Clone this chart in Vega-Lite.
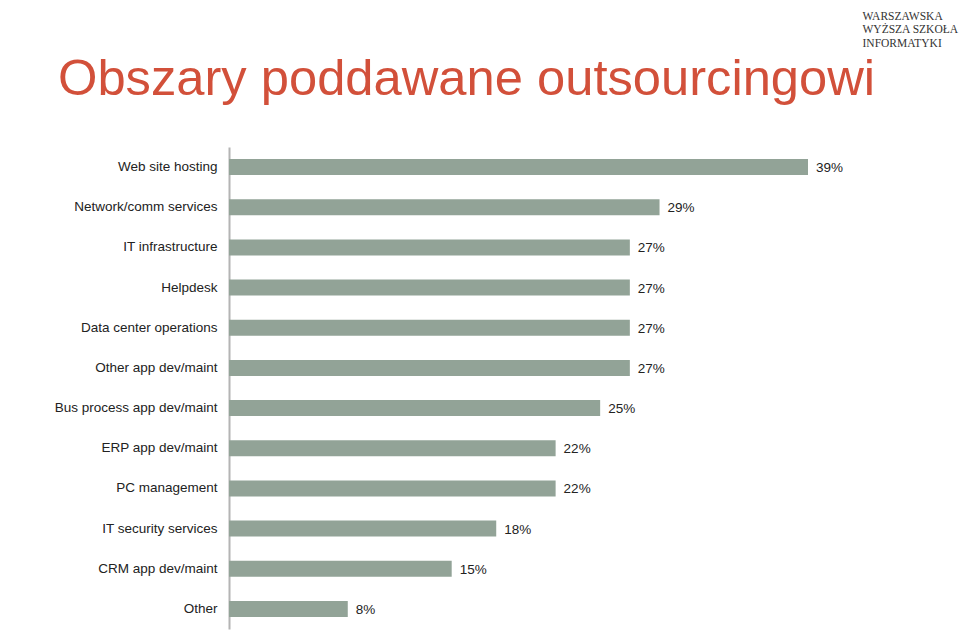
{
  "$schema": "https://vega.github.io/schema/vega-lite/v6.json",
  "autosize": {"type": "none"},
  "width": 579,
  "height": 482,
  "padding": {"left": 229, "top": 147, "right": 152, "bottom": 1},
  "background": "white",
  "title": {
    "text": "Obszary poddawane outsourcingowi",
    "anchor": "start",
    "frame": "group",
    "orient": "top",
    "baseline": "alphabetic",
    "offset": 0,
    "dy": 136,
    "dx": -171,
    "font": "Liberation Sans",
    "fontSize": 50.7,
    "fontWeight": "normal",
    "color": "#d2503a"
  },
  "data": {
    "values": [
      {"area": "Web site hosting", "pct": 0.39, "ord": 1},
      {"area": "Network/comm services", "pct": 0.29, "ord": 2},
      {"area": "IT infrastructure", "pct": 0.27, "ord": 3},
      {"area": "Helpdesk", "pct": 0.27, "ord": 4},
      {"area": "Data center operations", "pct": 0.27, "ord": 5},
      {"area": "Other app dev/maint", "pct": 0.27, "ord": 6},
      {"area": "Bus process app dev/maint", "pct": 0.25, "ord": 7},
      {"area": "ERP app dev/maint", "pct": 0.22, "ord": 8},
      {"area": "PC management", "pct": 0.22, "ord": 9},
      {"area": "IT security services", "pct": 0.18, "ord": 10},
      {"area": "CRM app dev/maint", "pct": 0.15, "ord": 11},
      {"area": "Other", "pct": 0.08, "ord": 12}
    ]
  },
  "encoding": {
    "y": {
      "field": "area",
      "type": "nominal",
      "sort": {"field": "ord", "order": "ascending"},
      "scale": {"paddingInner": 0.6, "paddingOuter": 0.3},
      "axis": {
        "title": null,
        "ticks": false,
        "labelPadding": 12,
        "labelFont": "Liberation Sans",
        "labelFontSize": 13.5,
        "labelColor": "#222222",
        "domainColor": "#b4b4b4",
        "domainWidth": 2,
        "grid": false
      }
    },
    "x": {
      "field": "pct",
      "type": "quantitative",
      "scale": {"domain": [0, 0.39], "nice": false, "zero": true},
      "axis": {
        "orient": "top",
        "labels": false,
        "ticks": false,
        "domain": false,
        "grid": false,
        "title": ["WARSZAWSKA", "WYŻSZA SZKOŁA", "INFORMATYKI"],
        "titleFont": "Liberation Serif",
        "titleFontSize": 11.5,
        "titleFontWeight": "normal",
        "titleColor": "#333333",
        "titleAlign": "left",
        "titleAnchor": "start",
        "titleBaseline": "alphabetic",
        "titleX": 633,
        "titleY": -128,
        "titleLineHeight": 13.5
      }
    }
  },
  "layer": [
    {
      "mark": {"type": "bar", "color": "#92a397"}
    },
    {
      "mark": {
        "type": "text",
        "align": "left",
        "baseline": "middle",
        "dx": 8,
        "dy": 1,
        "font": "Liberation Sans",
        "fontSize": 13.5,
        "color": "#222222"
      },
      "encoding": {
        "text": {"field": "pct", "type": "quantitative", "format": ".0%"}
      }
    }
  ],
  "config": {"view": {"stroke": null}}
}
